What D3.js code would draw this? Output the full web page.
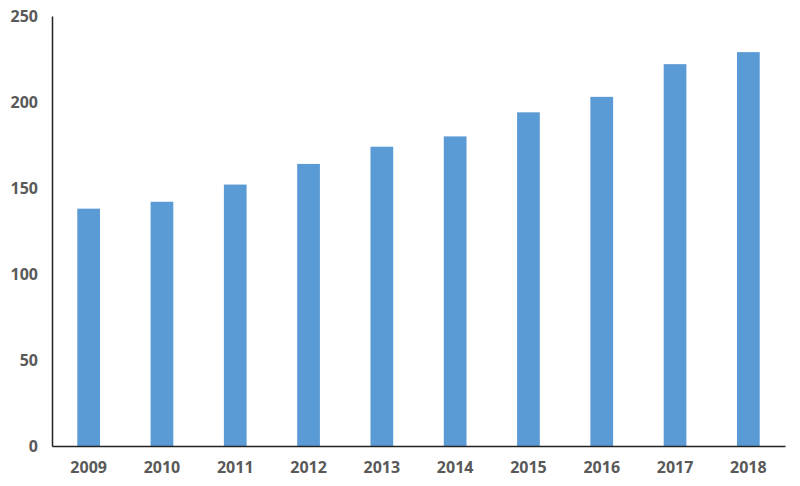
<!DOCTYPE html>
<html><head><meta charset="utf-8">
<script src="https://cdn.jsdelivr.net/npm/d3@7"></script>
<style>body{margin:0;background:#fff}svg{display:block}</style>
</head><body>
<svg id="c" width="800" height="486"></svg>
<script>
const years = ["2009","2010","2011","2012","2013","2014","2015","2016","2017","2018"];
const values = [138, 142, 152, 164, 174, 180, 194, 203, 222, 229];
const yTicks = [0, 50, 100, 150, 200, 250];

const svg = d3.select("#c");
const x = d3.scaleBand().domain(years).range([52, 785]).paddingInner(0.69).paddingOuter(0.345);
const y = d3.scaleLinear().domain([0, 250]).range([446, 16]);

svg.append("g").selectAll("rect").data(values).join("rect")
  .attr("x", (d, i) => x(years[i]))
  .attr("width", x.bandwidth())
  .attr("y", d => y(d))
  .attr("height", d => y(0) - y(d))
  .attr("fill", "#5b9bd5");

const font = "'Open Sans', 'Noto Sans', sans-serif";
const yAxis = svg.append("g").attr("transform", "translate(52,0)")
  .call(d3.axisLeft(y).tickValues(yTicks).tickSize(0).tickPadding(14));
yAxis.select(".domain").attr("stroke", "#222").attr("stroke-width", 1.5);
yAxis.selectAll("text").attr("font-family", font).attr("font-size", 16).attr("font-weight", 700).attr("fill", "#595959");

const xAxis = svg.append("g").attr("transform", "translate(0,446)")
  .call(d3.axisBottom(x).tickSize(0).tickPadding(16));
xAxis.select(".domain").attr("stroke", "#222").attr("stroke-width", 1.5);
xAxis.selectAll("text").attr("font-family", font).attr("font-size", 16).attr("font-weight", 700).attr("fill", "#595959");
</script>
</body></html>
